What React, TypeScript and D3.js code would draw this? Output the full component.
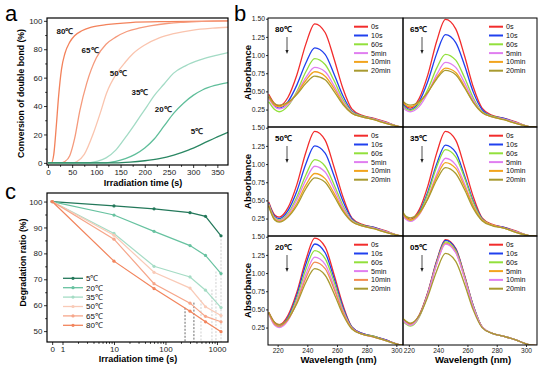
import React, { useEffect, useRef } from 'react';
import * as d3 from 'd3';

const FONT = "'Liberation Sans', Arial, sans-serif";

// ---------- panel a: conversion of double bond ----------
const convTemps = ['80℃', '65℃', '50℃', '35℃', '20℃', '5℃'];
const convColors = ['#f3825b', '#f59a7c', '#fac4ae', '#a3dbc5', '#5fbe9a', '#2a8763'];
const conv80 = [[0, 0], [7, 0], [12, 6], [17, 25], [22, 47], [28, 66], [35, 77], [45, 85], [55, 89.5], [70, 93], [90, 95.5], [120, 97.3], [170, 98.8], [250, 99.5], [372, 100]];
const conv65 = [[0, 0], [25, 0], [35, 1], [45, 5], [55, 17], [66, 37], [80, 56], [100, 74], [120, 83.5], [140, 88.5], [163, 92.5], [190, 95], [211, 96.5], [250, 98.3], [280, 99], [372, 100]];
const conv50 = [[0, 0], [50, 0], [60, 1], [75, 6], [94, 21], [108, 35], [121, 49], [142, 63], [160, 71], [176, 77], [200, 83], [230, 88], [260, 91], [300, 93.5], [340, 94.8], [372, 95.5]];
const conv35 = [[0, 0], [85, 0], [100, 1], [120, 3.5], [140, 9], [156, 16], [175, 25], [190, 32.6], [205, 40], [218, 46.7], [240, 55.5], [259, 63], [285, 68.5], [314, 72.5], [345, 75.5], [372, 77.7]];
const conv20 = [[0, 0], [120, 0], [140, 1], [160, 3], [180, 6], [200, 10.5], [220, 17], [240, 26], [260, 35], [280, 42], [300, 47.5], [320, 51.5], [345, 54.5], [372, 56.5]];
const conv5 = [[0, 0], [140, 0], [170, 0.5], [200, 1.5], [230, 3], [260, 5.5], [290, 9], [320, 13.5], [345, 17.5], [372, 21.5]];
const convSeries = [conv80, conv65, conv50, conv35, conv20, conv5];
const convLabelAt = [[35, 93], [87, 79], [145, 63], [190, 50], [238, 38], [308, 22.5]];

// ---------- panel b: UV spectra ----------
const waveNm = [214, 218, 221, 227, 233, 239, 245, 252, 258, 264, 270, 277, 285, 293, 301, 309];
const timeLabels = ['0s', '10s', '60s', '5min', '10min', '20min'];
const abs80 = [
  [0.46, 0.33, 0.30, 0.42, 0.73, 1.15, 1.43, 1.31, 0.95, 0.54, 0.26, 0.17, 0.13, 0.08, 0.02, 0],
  [0.42, 0.30, 0.27, 0.36, 0.59, 0.89, 1.10, 1.01, 0.74, 0.44, 0.23, 0.16, 0.12, 0.07, 0.02, 0],
  [0.36, 0.25, 0.22, 0.30, 0.50, 0.77, 0.95, 0.87, 0.65, 0.39, 0.22, 0.16, 0.12, 0.07, 0.02, 0],
  [0.40, 0.29, 0.26, 0.32, 0.48, 0.69, 0.83, 0.77, 0.58, 0.36, 0.21, 0.15, 0.12, 0.07, 0.02, 0],
  [0.42, 0.31, 0.29, 0.34, 0.47, 0.65, 0.77, 0.71, 0.54, 0.34, 0.20, 0.15, 0.11, 0.06, 0.02, 0],
  [0.44, 0.33, 0.31, 0.35, 0.46, 0.61, 0.71, 0.66, 0.50, 0.32, 0.20, 0.15, 0.11, 0.06, 0.02, 0],
];
const abs65 = [
  [0.43, 0.30, 0.27, 0.40, 0.73, 1.19, 1.49, 1.36, 0.99, 0.56, 0.27, 0.17, 0.13, 0.08, 0.02, 0],
  [0.40, 0.28, 0.25, 0.36, 0.64, 1.02, 1.28, 1.17, 0.86, 0.49, 0.25, 0.16, 0.13, 0.07, 0.02, 0],
  [0.37, 0.26, 0.24, 0.32, 0.53, 0.82, 1.01, 0.93, 0.69, 0.41, 0.22, 0.16, 0.12, 0.07, 0.02, 0],
  [0.35, 0.24, 0.22, 0.29, 0.48, 0.73, 0.90, 0.83, 0.62, 0.38, 0.21, 0.15, 0.12, 0.07, 0.02, 0],
  [0.39, 0.31, 0.29, 0.35, 0.49, 0.69, 0.82, 0.76, 0.57, 0.35, 0.21, 0.15, 0.11, 0.06, 0.02, 0],
  [0.40, 0.33, 0.31, 0.36, 0.49, 0.67, 0.79, 0.73, 0.55, 0.35, 0.21, 0.15, 0.11, 0.06, 0.02, 0],
];
const abs50 = [
  [0.48, 0.30, 0.27, 0.40, 0.72, 1.16, 1.45, 1.33, 0.96, 0.55, 0.26, 0.17, 0.13, 0.08, 0.02, 0],
  [0.46, 0.28, 0.25, 0.36, 0.63, 1.00, 1.25, 1.15, 0.84, 0.49, 0.25, 0.16, 0.13, 0.07, 0.02, 0],
  [0.45, 0.26, 0.23, 0.32, 0.55, 0.85, 1.06, 0.97, 0.72, 0.43, 0.23, 0.16, 0.12, 0.07, 0.02, 0],
  [0.44, 0.25, 0.22, 0.30, 0.51, 0.78, 0.97, 0.89, 0.66, 0.40, 0.22, 0.15, 0.12, 0.07, 0.02, 0],
  [0.43, 0.24, 0.21, 0.28, 0.46, 0.71, 0.87, 0.80, 0.60, 0.37, 0.21, 0.15, 0.11, 0.06, 0.02, 0],
  [0.42, 0.23, 0.20, 0.27, 0.43, 0.66, 0.81, 0.75, 0.56, 0.35, 0.21, 0.15, 0.11, 0.06, 0.02, 0],
];
const abs35 = [
  [0.36, 0.27, 0.24, 0.37, 0.70, 1.15, 1.45, 1.33, 0.96, 0.55, 0.26, 0.17, 0.13, 0.08, 0.02, 0],
  [0.38, 0.26, 0.23, 0.34, 0.62, 1.00, 1.26, 1.16, 0.84, 0.49, 0.25, 0.16, 0.13, 0.07, 0.02, 0],
  [0.39, 0.25, 0.22, 0.32, 0.59, 0.96, 1.20, 1.10, 0.81, 0.47, 0.24, 0.16, 0.12, 0.07, 0.02, 0],
  [0.37, 0.24, 0.21, 0.30, 0.54, 0.86, 1.08, 0.99, 0.73, 0.43, 0.23, 0.16, 0.12, 0.07, 0.02, 0],
  [0.41, 0.26, 0.23, 0.31, 0.53, 0.82, 1.02, 0.94, 0.69, 0.42, 0.23, 0.16, 0.12, 0.06, 0.02, 0],
  [0.43, 0.28, 0.26, 0.33, 0.52, 0.78, 0.95, 0.87, 0.65, 0.39, 0.22, 0.15, 0.12, 0.06, 0.02, 0],
];
const abs20 = [
  [0.46, 0.32, 0.29, 0.42, 0.74, 1.18, 1.48, 1.36, 0.98, 0.56, 0.26, 0.17, 0.13, 0.08, 0.02, 0],
  [0.45, 0.30, 0.27, 0.39, 0.70, 1.12, 1.40, 1.28, 0.93, 0.53, 0.26, 0.17, 0.13, 0.08, 0.02, 0],
  [0.44, 0.29, 0.26, 0.37, 0.66, 1.05, 1.31, 1.20, 0.88, 0.50, 0.25, 0.16, 0.13, 0.07, 0.02, 0],
  [0.44, 0.28, 0.25, 0.35, 0.62, 0.98, 1.22, 1.12, 0.82, 0.48, 0.24, 0.16, 0.12, 0.07, 0.02, 0],
  [0.45, 0.30, 0.27, 0.36, 0.60, 0.93, 1.15, 1.06, 0.78, 0.46, 0.24, 0.16, 0.12, 0.07, 0.02, 0],
  [0.46, 0.32, 0.29, 0.37, 0.58, 0.87, 1.06, 0.97, 0.72, 0.43, 0.23, 0.16, 0.12, 0.07, 0.02, 0],
];
const abs05 = [
  [0.40, 0.33, 0.30, 0.42, 0.74, 1.17, 1.46, 1.34, 0.97, 0.55, 0.26, 0.17, 0.13, 0.08, 0.02, 0],
  [0.40, 0.32, 0.29, 0.41, 0.73, 1.16, 1.45, 1.33, 0.96, 0.55, 0.26, 0.17, 0.13, 0.08, 0.02, 0],
  [0.39, 0.30, 0.27, 0.39, 0.71, 1.14, 1.43, 1.31, 0.95, 0.54, 0.26, 0.17, 0.13, 0.08, 0.02, 0],
  [0.40, 0.32, 0.29, 0.41, 0.72, 1.13, 1.41, 1.29, 0.94, 0.53, 0.26, 0.17, 0.13, 0.08, 0.02, 0],
  [0.40, 0.31, 0.28, 0.40, 0.71, 1.12, 1.40, 1.28, 0.93, 0.53, 0.26, 0.17, 0.13, 0.08, 0.02, 0],
  [0.41, 0.34, 0.31, 0.41, 0.68, 1.03, 1.27, 1.16, 0.85, 0.49, 0.25, 0.17, 0.13, 0.08, 0.02, 0],
];
const specColors = ['#f22c2c', '#2040ee', '#92e03c', '#e07ef0', '#f2a41e', '#a89a30'];
const specColors20 = ['#f22c2c', '#2040ee', '#92e03c', '#e07ef0', '#f28c50', '#a89a30'];
const specColors05 = ['#f22c2c', '#2040ee', '#92e03c', '#f2a41e', '#e07ef0', '#a89a30'];
const specPanels = [
  { temp: '80℃', data: abs80, colors: specColors },
  { temp: '65℃', data: abs65, colors: specColors },
  { temp: '50℃', data: abs50, colors: specColors },
  { temp: '35℃', data: abs35, colors: specColors },
  { temp: '20℃', data: abs20, colors: specColors20 },
  { temp: '05℃', data: abs05, colors: specColors05 },
];
const absTicks = [0.25, 0.5, 0.75, 1.0, 1.25, 1.5];
const waveTicks = [220, 240, 260, 280, 300];

// ---------- panel c: degradation ratio ----------
const degTemps = ['5℃', '20℃', '35℃', '50℃', '65℃', '80℃'];
const degColors = ['#23785a', '#67c2a0', '#a5dcc5', '#f9cab7', '#f6a68a', '#f2845c'];
const degTimes = [0, 10, 60, 300, 600, 1200];
const deg5 = [100, 98.3, 97.2, 95.7, 94.3, 86.8];
const deg20 = [100, 94.8, 88.5, 83.0, 79.2, 72.2];
const deg35 = [100, 87.7, 75.0, 70.9, 65.8, 59.1];
const deg50 = [100, 87.0, 72.7, 66.6, 59.4, 56.0];
const deg65 = [100, 85.5, 68.3, 60.8, 55.7, 53.6];
const deg80 = [100, 77.0, 66.4, 57.7, 53.6, 49.8];
const degSeries = [deg5, deg20, deg35, deg50, deg65, deg80];
const guideTimes = [240, 357, 490, 800, 957, 1200];
const guideTops = [59, 61, 62, 66, 73, 86.8];
const zeroAt = 0.63; // where t = 0 sits on the log axis

function styleAxis(g: any, size: number) {
  g.attr('font-family', FONT).attr('font-size', size);
  g.select('.domain').remove();
  g.selectAll('.tick text').attr('fill', '#1a1a1a');
  g.selectAll('.tick line').attr('stroke', '#000').attr('stroke-width', 0.8);
}

function drawA(svg: any) {
  const left = 47, right = 228, top = 18, bottom = 165;
  const x = d3.scaleLinear().domain([-2, 372]).range([left, right]);
  const y = d3.scaleLinear().domain([-1.5, 102]).range([bottom, top]);
  const g = svg.append('g');
  g.append('clipPath').attr('id', 'clipA').append('rect')
    .attr('x', left).attr('y', top).attr('width', right - left).attr('height', bottom - top);

  const line = d3.line<number[]>().x((d) => x(d[0])).y((d) => y(d[1])).curve(d3.curveMonotoneX);
  convSeries.forEach((s, i) => {
    g.append('path').attr('d', line(s)).attr('fill', 'none')
      .attr('stroke', convColors[i]).attr('stroke-width', 1.3).attr('clip-path', 'url(#clipA)');
  });
  convTemps.forEach((t, i) => {
    g.append('text').text(t).attr('x', x(convLabelAt[i][0])).attr('y', y(convLabelAt[i][1]))
      .attr('dy', '0.35em').attr('text-anchor', 'middle').attr('font-family', FONT)
      .attr('font-size', 8).attr('font-weight', 'bold').attr('fill', '#111');
  });

  g.append('g').attr('transform', `translate(0,${bottom})`)
    .call(d3.axisBottom(x).tickValues(d3.range(0, 351, 50)).tickSize(3).tickPadding(1.5))
    .call((a: any) => styleAxis(a, 8));
  g.append('g').attr('transform', `translate(0,${bottom})`)
    .call(d3.axisBottom(x).tickValues(d3.range(25, 351, 50)).tickSize(1.8).tickFormat(() => ''))
    .call((a: any) => styleAxis(a, 8));
  g.append('g').attr('transform', `translate(${left},0)`)
    .call(d3.axisLeft(y).tickValues(d3.range(0, 101, 20)).tickSize(3).tickPadding(1.5))
    .call((a: any) => styleAxis(a, 8));
  g.append('g').attr('transform', `translate(${left},0)`)
    .call(d3.axisLeft(y).tickValues(d3.range(10, 101, 20)).tickSize(1.8).tickFormat(() => ''))
    .call((a: any) => styleAxis(a, 8));

  g.append('rect').attr('x', left).attr('y', top).attr('width', right - left).attr('height', bottom - top)
    .attr('fill', 'none').attr('stroke', '#000').attr('stroke-width', 1.2);

  g.append('text').text('Conversion of double bond (%)')
    .attr('transform', `translate(24,${(top + bottom) / 2 + 2}) rotate(-90)`)
    .attr('text-anchor', 'middle').attr('font-family', FONT).attr('font-size', 8.7).attr('font-weight', 'bold');
  g.append('text').text('Irradiation time (s)').attr('x', 143).attr('y', 186)
    .attr('text-anchor', 'middle').attr('font-family', FONT).attr('font-size', 9).attr('font-weight', 'bold');
  g.append('text').text('a').attr('x', 5).attr('y', 21).attr('font-family', FONT).attr('font-size', 22);
}

function drawB(svg: any) {
  const rows = [18, 127, 236, 345];
  const cols = [[268, 403], [403, 537]];
  const domains = [[213.5, 304.5], [216, 307.5]];
  const g = svg.append('g');

  specPanels.forEach((p, k) => {
    const c = k % 2, r = Math.floor(k / 2);
    const [l, rt] = cols[c];
    const top = rows[r], bot = rows[r + 1];
    const x = d3.scaleLinear().domain(domains[c]).range([l, rt]);
    const y = d3.scaleLinear().domain([0.01, 1.51]).range([bot, top]);
    const id = `clipB${k}`;
    g.append('clipPath').attr('id', id).append('rect')
      .attr('x', l).attr('y', top).attr('width', rt - l).attr('height', bot - top);
    const line = d3.line<number>().x((_, i) => x(waveNm[i])).y((d) => y(d)).curve(d3.curveMonotoneX);
    p.data.forEach((s, i) => {
      g.append('path').attr('d', line(s)).attr('fill', 'none').attr('stroke', p.colors[i])
        .attr('stroke-width', 1.3).attr('clip-path', `url(#${id})`);
    });

    // legend
    timeLabels.forEach((t, i) => {
      const ly = top + 8.7 + i * 8.8;
      g.append('line').attr('x1', l + 86).attr('x2', l + 100).attr('y1', ly).attr('y2', ly)
        .attr('stroke', p.colors[i]).attr('stroke-width', 2);
      g.append('text').text(t).attr('x', l + 103).attr('y', ly).attr('dy', '0.35em')
        .attr('font-family', FONT).attr('font-size', 7.2).attr('fill', '#111');
    });

    // temperature + arrow
    g.append('text').text(p.temp).attr('x', l + 7).attr('y', top + 14)
      .attr('font-family', FONT).attr('font-size', 8).attr('font-weight', 'bold');
    g.append('line').attr('x1', l + 19).attr('x2', l + 19).attr('y1', top + 19).attr('y2', top + 33)
      .attr('stroke', '#222').attr('stroke-width', 0.8);
    g.append('path').attr('d', `M${l + 17.4},${top + 32} L${l + 20.6},${top + 32} L${l + 19},${top + 36} Z`)
      .attr('fill', '#222');

    if (c === 0) {
      g.append('g').attr('transform', `translate(${l},0)`)
        .call(d3.axisLeft(y).tickValues(absTicks).tickSize(2).tickPadding(1).tickFormat(d3.format('.2f')))
        .call((a: any) => styleAxis(a, 6.8));
      g.append('text').text('Absorbance')
        .attr('transform', `translate(251,${(top + bot) / 2}) rotate(-90)`)
        .attr('text-anchor', 'middle').attr('font-family', FONT).attr('font-size', 9.5).attr('font-weight', 'bold');
    }
    if (r === 2) {
      g.append('g').attr('transform', `translate(0,${bot})`)
        .call(d3.axisBottom(x).tickValues(waveTicks).tickSize(2).tickPadding(1.5))
        .call((a: any) => styleAxis(a, 6.6));
      g.append('text').text('Wavelength (nm)').attr('x', (l + rt) / 2 + 3).attr('y', 363)
        .attr('text-anchor', 'middle').attr('font-family', FONT).attr('font-size', 9.5).attr('font-weight', 'bold');
    }
    g.append('rect').attr('x', l).attr('y', top).attr('width', rt - l).attr('height', bot - top)
      .attr('fill', 'none').attr('stroke', '#000').attr('stroke-width', 1);
  });
  g.append('text').text('b').attr('x', 234).attr('y', 21).attr('font-family', FONT).attr('font-size', 22);
}

function drawC(svg: any) {
  const left = 47, right = 228, top = 193, bottom = 342;
  const x = d3.scaleLog().domain([0.5, 1640]).range([left, right]);
  const xt = (t: number) => x(t === 0 ? zeroAt : t);
  const y = d3.scaleLinear().domain([45.8, 103.3]).range([bottom, top]);
  const g = svg.append('g');

  guideTimes.forEach((t, i) => {
    g.append('line').attr('x1', xt(t)).attr('x2', xt(t)).attr('y1', y(guideTops[i])).attr('y2', bottom)
      .attr('stroke', i < 2 ? '#444' : '#c4c4c4').attr('stroke-width', 0.8).attr('stroke-dasharray', '2,1.5');
  });

  const line = d3.line<number>().x((_, i) => xt(degTimes[i])).y((d) => y(d));
  degSeries.forEach((s, k) => {
    g.append('path').attr('d', line(s)).attr('fill', 'none').attr('stroke', degColors[k]).attr('stroke-width', 1.2);
    g.selectAll(null).data(s).enter().append('circle')
      .attr('cx', (_: number, i: number) => xt(degTimes[i])).attr('cy', (d: number) => y(d))
      .attr('r', 1.6).attr('fill', degColors[k]);
  });

  // legend
  degTemps.forEach((t, i) => {
    const ly = 278.3 + i * 9.4;
    g.append('line').attr('x1', 63).attr('x2', 83).attr('y1', ly).attr('y2', ly)
      .attr('stroke', degColors[i]).attr('stroke-width', 1.3);
    g.append('circle').attr('cx', 73).attr('cy', ly).attr('r', 1.6).attr('fill', degColors[i]);
    g.append('text').text(t).attr('x', 86).attr('y', ly).attr('dy', '0.35em')
      .attr('font-family', FONT).attr('font-size', 8).attr('fill', '#111');
  });

  g.append('g').attr('transform', `translate(0,${bottom})`)
    .call(d3.axisBottom(x).tickValues([zeroAt, 1, 10, 100, 1000]).tickSize(3).tickPadding(1.5)
      .tickFormat((d: any) => (d === zeroAt ? '0' : String(d))))
    .call((a: any) => styleAxis(a, 8));
  const minor = [2, 3, 4, 5, 6, 7, 8, 9].flatMap((m) => [m, m * 10, m * 100]);
  g.append('g').attr('transform', `translate(0,${bottom})`)
    .call(d3.axisBottom(x).tickValues(minor).tickSize(1.8).tickFormat(() => ''))
    .call((a: any) => styleAxis(a, 8));
  g.append('g').attr('transform', `translate(${left},0)`)
    .call(d3.axisLeft(y).tickValues(d3.range(50, 101, 10)).tickSize(3).tickPadding(1.5))
    .call((a: any) => styleAxis(a, 8));
  g.append('g').attr('transform', `translate(${left},0)`)
    .call(d3.axisLeft(y).tickValues(d3.range(55, 101, 10)).tickSize(1.8).tickFormat(() => ''))
    .call((a: any) => styleAxis(a, 8));

  g.append('rect').attr('x', left).attr('y', top).attr('width', right - left).attr('height', bottom - top)
    .attr('fill', 'none').attr('stroke', '#000').attr('stroke-width', 1.2);

  g.append('text').text('Degradation ratio (%)')
    .attr('transform', `translate(26,${(top + bottom) / 2 - 5}) rotate(-90)`)
    .attr('text-anchor', 'middle').attr('font-family', FONT).attr('font-size', 8.7).attr('font-weight', 'bold');
  g.append('text').text('Irradiation time (s)').attr('x', 138).attr('y', 362)
    .attr('text-anchor', 'middle').attr('font-family', FONT).attr('font-size', 9).attr('font-weight', 'bold');
  g.append('text').text('c').attr('x', 5).attr('y', 199).attr('font-family', FONT).attr('font-size', 22);
}

export default function App() {
  const ref = useRef<SVGSVGElement>(null);
  useEffect(() => {
    document.body.style.margin = '0';
    const svg = d3.select(ref.current);
    svg.selectAll('*').remove();
    drawA(svg);
    drawB(svg);
    drawC(svg);
  }, []);
  return <svg ref={ref} width={550} height={365} style={{ display: 'block', background: '#fff' }} />;
}
